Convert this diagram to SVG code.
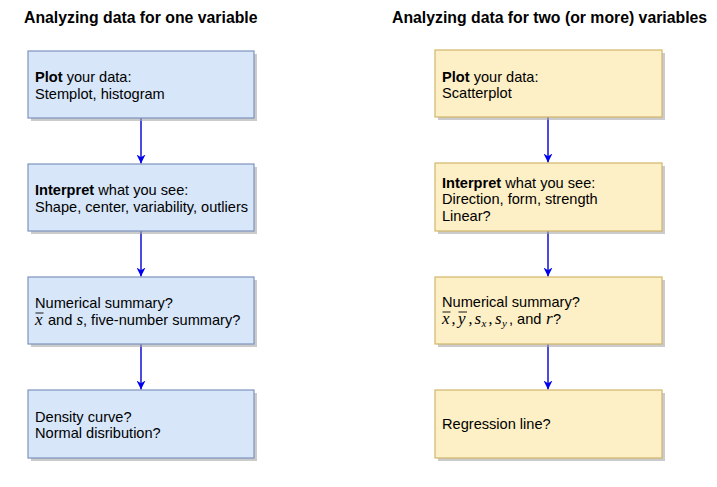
<svg xmlns="http://www.w3.org/2000/svg" width="717" height="487" viewBox="0 0 717 487">
<defs>
<style>
.title{font-family:"Liberation Sans",Arial,sans-serif;font-weight:bold;font-size:15.8px;fill:#000}
.t{font-family:"Liberation Sans",Arial,sans-serif;font-size:14.6px;fill:#000}
.b{font-weight:bold}
.m{font-family:"Liberation Serif","DejaVu Serif",serif;font-style:italic;font-size:17px;fill:#000}
.ms{font-family:"Liberation Serif","DejaVu Serif",serif;font-style:italic;font-size:11px;fill:#000}
.mp{font-family:"Liberation Serif","DejaVu Serif",serif;font-size:16px;fill:#000}
.blue{fill:#d7e6f9;stroke:#7d93bd;stroke-width:1.2}
.yel{fill:#fdefc6;stroke:#d2b66a;stroke-width:1.2}
.sh{fill:#a8a8a8;opacity:0.6}
.ov{stroke:#000;stroke-width:0.9}
.conn{stroke:#0000cc;stroke-width:1.4;fill:none}
</style>
<marker id="ah" viewBox="0 0 10 10" refX="10" refY="5" markerWidth="9" markerHeight="9" markerUnits="userSpaceOnUse" orient="auto">
<path d="M0,0 L10,5 L0,10 L3,5 Z" fill="#0000ee"/>
</marker>
</defs>
<rect width="717" height="487" fill="#fff"/>
<text class="title" x="24" y="23">Analyzing data for one variable</text>
<text class="title" x="392" y="23">Analyzing data for two (or more) variables</text>

<g id="connectors">
<line class="conn" x1="141" y1="118" x2="141" y2="163.5" marker-end="url(#ah)"/>
<line class="conn" x1="141" y1="231" x2="141" y2="276.5" marker-end="url(#ah)"/>
<line class="conn" x1="141" y1="344" x2="141" y2="389.5" marker-end="url(#ah)"/>
<line class="conn" x1="548" y1="117" x2="548" y2="162.5" marker-end="url(#ah)"/>
<line class="conn" x1="548" y1="231" x2="548" y2="276.5" marker-end="url(#ah)"/>
<line class="conn" x1="548" y1="344" x2="548" y2="389.5" marker-end="url(#ah)"/>
</g>

<g id="L1">
<rect class="sh" x="31" y="54" width="226" height="67"/>
<rect class="blue" x="28" y="51" width="226" height="67"/>
<text class="t" x="35" y="82"><tspan class="b">Plot</tspan> your data:</text>
<text class="t" x="35" y="98.5">Stemplot, histogram</text>
</g>
<g id="L2">
<rect class="sh" x="31" y="167" width="226" height="67"/>
<rect class="blue" x="28" y="164" width="226" height="67"/>
<text class="t" x="35" y="195"><tspan class="b">Interpret</tspan> what you see:</text>
<text class="t" x="35" y="211.5">Shape, center, variability, outliers</text>
</g>
<g id="L3">
<rect class="sh" x="31" y="280" width="226" height="67"/>
<rect class="blue" x="28" y="277" width="226" height="67"/>
<text class="t" x="35" y="308">Numerical summary?</text>
<text class="m" x="35" y="324.5">x</text>
<line class="ov" x1="35.5" y1="313" x2="43.5" y2="313"/>
<text class="t" x="48" y="324.5">and</text>
<text class="m" x="76.5" y="324.5">s</text>
<text class="t" x="83" y="324.5">, five-number summary?</text>
</g>
<g id="L4">
<rect class="sh" x="31" y="393" width="226" height="68"/>
<rect class="blue" x="28" y="390" width="226" height="68"/>
<text class="t" x="35" y="421.5">Density curve?</text>
<text class="t" x="35" y="438">Normal disribution?</text>
</g>

<g id="R1">
<rect class="sh" x="438" y="53" width="227" height="67"/>
<rect class="yel" x="435" y="50" width="227" height="67"/>
<text class="t" x="442" y="81.5"><tspan class="b">Plot</tspan> your data:</text>
<text class="t" x="442" y="98">Scatterplot</text>
</g>
<g id="R2">
<rect class="sh" x="438" y="166" width="227" height="68"/>
<rect class="yel" x="435" y="163" width="227" height="68"/>
<text class="t" x="442" y="187.5"><tspan class="b">Interpret</tspan> what you see:</text>
<text class="t" x="442" y="204">Direction, form, strength</text>
<text class="t" x="442" y="220.5">Linear?</text>
</g>
<g id="R3">
<rect class="sh" x="438" y="280" width="227" height="67"/>
<rect class="yel" x="435" y="277" width="227" height="67"/>
<text class="t" x="442" y="307">Numerical summary?</text>
<text class="m" x="442" y="323.5">x</text>
<line class="ov" x1="442.5" y1="312" x2="450.5" y2="312"/>
<text class="mp" x="451.5" y="323.5">,</text>
<text class="m" x="458" y="323.5">y</text>
<line class="ov" x1="458.5" y1="312" x2="467" y2="312"/>
<text class="mp" x="468.5" y="323.5">,</text>
<text class="m" x="474.5" y="323.5">s</text>
<text class="ms" x="481.5" y="326.5">x</text>
<text class="mp" x="488.5" y="323.5">,</text>
<text class="m" x="495" y="323.5">s</text>
<text class="ms" x="502" y="326.5">y</text>
<text class="t" x="509" y="323.5">, and</text>
<text class="m" x="546" y="323.5">r</text>
<text class="t" x="553" y="323.5">?</text>
</g>
<g id="R4">
<rect class="sh" x="438" y="393" width="227" height="68"/>
<rect class="yel" x="435" y="390" width="227" height="68"/>
<text class="t" x="442" y="429">Regression line?</text>
</g>
</svg>
